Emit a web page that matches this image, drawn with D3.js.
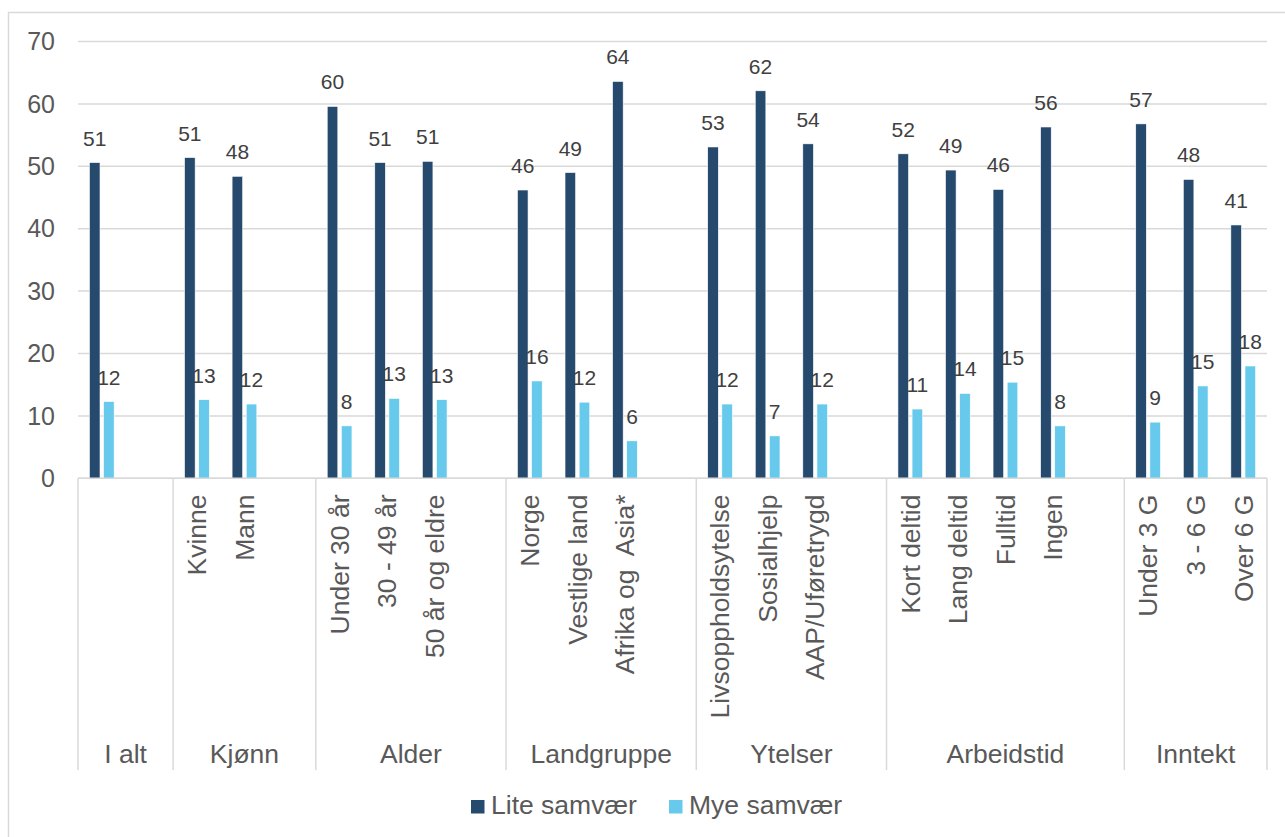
<!DOCTYPE html>
<html>
<head>
<meta charset="utf-8">
<script src="https://cdn.jsdelivr.net/npm/d3@7"></script>
<style>
  body { margin: 0; background: #fff; }
  text { font-family: "Liberation Sans", Arial, sans-serif; white-space: pre; }
</style>
</head>
<body>
<svg width="1285" height="837"></svg>
<script>
// group names on the lower axis level
var groups = ["I alt", "Kjønn", "Alder", "Landgruppe", "Ytelser", "Arbeidstid", "Inntekt"];
// category labels (upper axis level), with the group each belongs to
var categories = ["", "Kvinne", "Mann", "Under 30 år", "30 - 49 år", "50 år og eldre",
  "Norge", "Vestlige land", "Afrika og  Asia*", "Livsoppholdsytelse", "Sosialhjelp",
  "AAP/Uføretrygd", "Kort deltid", "Lang deltid", "Fulltid", "Ingen",
  "Under 3 G", "3 - 6 G", "Over 6 G"];
var categoryGroup = [0, 1, 1, 2, 2, 2, 3, 3, 3, 4, 4, 4, 5, 5, 5, 5, 6, 6, 6];
// series values
var lite = [50.6, 51.4, 48.4, 59.6, 50.6, 50.8, 46.2, 49.0, 63.6, 53.1, 62.1, 53.6,
  52.0, 49.4, 46.3, 56.3, 56.8, 47.9, 40.6];
var mye = [12.3, 12.6, 11.9, 8.4, 12.8, 12.6, 15.6, 12.2, 6.0, 11.9, 6.8, 11.9,
  11.1, 13.6, 15.4, 8.4, 9.0, 14.8, 18.0];
var seriesNames = ["Lite samvær", "Mye samvær"];
var yTicks = [0, 10, 20, 30, 40, 50, 60, 70];

var colors = ["#264a6e", "#67c9ec"];
var gray = "#d9d9d9";
var textGray = "#595959";

// build the slot list: every group gets an empty slot after it (except the last)
var slots = [];
groups.forEach(function (g, gi) {
  categories.forEach(function (c, ci) {
    if (categoryGroup[ci] === gi) slots.push({ label: c, group: gi, idx: ci });
  });
  if (gi < groups.length - 1) slots.push({ label: "", group: gi, idx: -1 });
});
slots.forEach(function (s, i) { s.key = i; });

var svg = d3.select("svg");

// outer chart border, cut off by the picture on the right and bottom
svg.append("rect")
  .attr("x", 8.5).attr("y", 12.5)
  .attr("width", 1300).attr("height", 850)
  .attr("fill", "none").attr("stroke", gray).attr("stroke-width", 1.5);

var x = d3.scaleBand()
  .domain(slots.map(function (s) { return s.key; }))
  .range([78, 1267])
  .padding(0);

var step = x.bandwidth();
var xs = d3.scaleBand()
  .domain([0, 1])
  .range([step * 0.24, step * 0.76])
  .paddingInner(0.25);

var y = d3.scaleLinear().domain([0, 70]).range([478.3, 41.5]);

// gridlines
svg.append("g")
  .selectAll("line")
  .data(yTicks)
  .enter()
  .append("line")
  .attr("x1", 78).attr("x2", 1267)
  .attr("y1", function (d) { return y(d); })
  .attr("y2", function (d) { return y(d); })
  .attr("stroke", gray).attr("stroke-width", 1.5);

// y tick labels
svg.append("g")
  .selectAll("text")
  .data(yTicks)
  .enter()
  .append("text")
  .attr("x", 55)
  .attr("y", function (d) { return y(d); })
  .attr("dy", "0.35em")
  .attr("text-anchor", "end")
  .attr("font-size", 25)
  .attr("fill", textGray)
  .text(function (d) { return d; });

// bars
var filled = slots.filter(function (s) { return s.idx >= 0; });
var series = [lite, mye];

series.forEach(function (values, si) {
  var g = svg.append("g");
  g.selectAll("rect")
    .data(filled)
    .enter()
    .append("rect")
    .attr("x", function (s) { return x(s.key) + xs(si); })
    .attr("width", xs.bandwidth())
    .attr("y", function (s) { return y(values[s.idx]); })
    .attr("height", function (s) { return y(0) - y(values[s.idx]); })
    .attr("fill", colors[si])
    .attr("stroke", "#ffffff").attr("stroke-width", 0.6);
  // value labels
  g.selectAll("text")
    .data(filled)
    .enter()
    .append("text")
    .attr("x", function (s) { return x(s.key) + xs(si) + xs.bandwidth() / 2; })
    .attr("y", function (s) { return y(values[s.idx]) - 17; })
    .attr("text-anchor", "middle")
    .attr("font-size", 21)
    .attr("fill", "#404040")
    .text(function (s) { return Math.round(values[s.idx]); });
});

// axis line at zero
svg.append("line")
  .attr("x1", 78).attr("x2", 1267)
  .attr("y1", y(0)).attr("y2", y(0))
  .attr("stroke", gray).attr("stroke-width", 1.5);

// group separators of the multi level axis
var bounds = [78];
groups.forEach(function (g, gi) {
  var last = slots.filter(function (s) { return s.group === gi; }).pop();
  bounds.push(x(last.key) + step);
});
svg.append("g")
  .selectAll("line")
  .data(bounds)
  .enter()
  .append("line")
  .attr("x1", function (d) { return d; })
  .attr("x2", function (d) { return d; })
  .attr("y1", y(0)).attr("y2", 770)
  .attr("stroke", gray).attr("stroke-width", 1.5);

// rotated category labels
svg.append("g")
  .selectAll("text")
  .data(filled)
  .enter()
  .append("text")
  .attr("transform", function (s) {
    return "translate(" + (x(s.key) + step / 2) + ",494.5) rotate(-90)";
  })
  .attr("dy", "0.35em")
  .attr("text-anchor", "end")
  .attr("font-size", 26.5)
  .attr("fill", textGray)
  .text(function (s) { return s.label; });

// group labels
svg.append("g")
  .selectAll("text")
  .data(groups)
  .enter()
  .append("text")
  .attr("x", function (d, i) { return (bounds[i] + bounds[i + 1]) / 2; })
  .attr("y", 763)
  .attr("text-anchor", "middle")
  .attr("font-size", 26.5)
  .attr("fill", textGray)
  .text(function (d) { return d; });

// legend
var legend = svg.append("g");
var lx = [471, 669];
seriesNames.forEach(function (name, i) {
  legend.append("rect")
    .attr("x", lx[i]).attr("y", 800)
    .attr("width", 13.5).attr("height", 13.5)
    .attr("fill", colors[i]);
  legend.append("text")
    .attr("x", lx[i] + 20).attr("y", 814)
    .attr("font-size", 26.5)
    .attr("fill", textGray)
    .text(name);
});
</script>
</body>
</html>
